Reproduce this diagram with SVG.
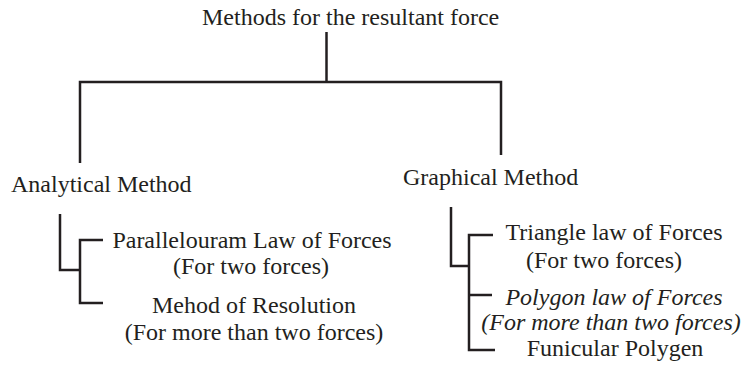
<svg xmlns="http://www.w3.org/2000/svg" width="744" height="365" viewBox="0 0 744 365">
<style>
text{font-family:"Liberation Serif","Times New Roman",serif;font-size:24px;fill:#231f20}
.c{text-anchor:middle}
.i{font-style:italic}
.ln{fill:none;stroke:#231f20;stroke-width:2.5;stroke-linejoin:miter;stroke-linecap:butt}
</style>
<rect width="744" height="365" fill="#ffffff"/>
<g id="connectors">
<path class="ln" d="M326.5,32 V82"/>
<path class="ln" d="M80,163 V82 H501 V155"/>
<path class="ln" d="M60,214 V270 H80"/>
<path class="ln" d="M103,240 H80 V303 H103"/>
<path class="ln" d="M451,207 V266 H469"/>
<path class="ln" d="M493,235 H469 V350 H495"/>
<path class="ln" d="M469,295 H492"/>
</g>
<g id="root"><text x="202" y="25">Methods for the resultant force</text></g>
<g id="analytical"><text x="11" y="192">Analytical Method</text></g>
<g id="graphical"><text x="403" y="185">Graphical Method</text></g>
<g id="parallelogram"><text class="c" x="252" y="248">Parallelouram Law of Forces</text><text class="c" x="251" y="274">(For two forces)</text></g>
<g id="resolution"><text class="c" x="254" y="313">Mehod of Resolution</text><text class="c" x="254" y="340">(For more than two forces)</text></g>
<g id="triangle"><text class="c" x="614" y="240">Triangle law of Forces</text><text class="c" x="604" y="268">(For two forces)</text></g>
<g id="polygon"><text class="c i" x="614" y="305">Polygon law of Forces</text><text class="c i" x="611" y="330">(For more than two forces)</text></g>
<g id="funicular"><text class="c" x="615" y="356">Funicular Polygen</text></g>
</svg>
